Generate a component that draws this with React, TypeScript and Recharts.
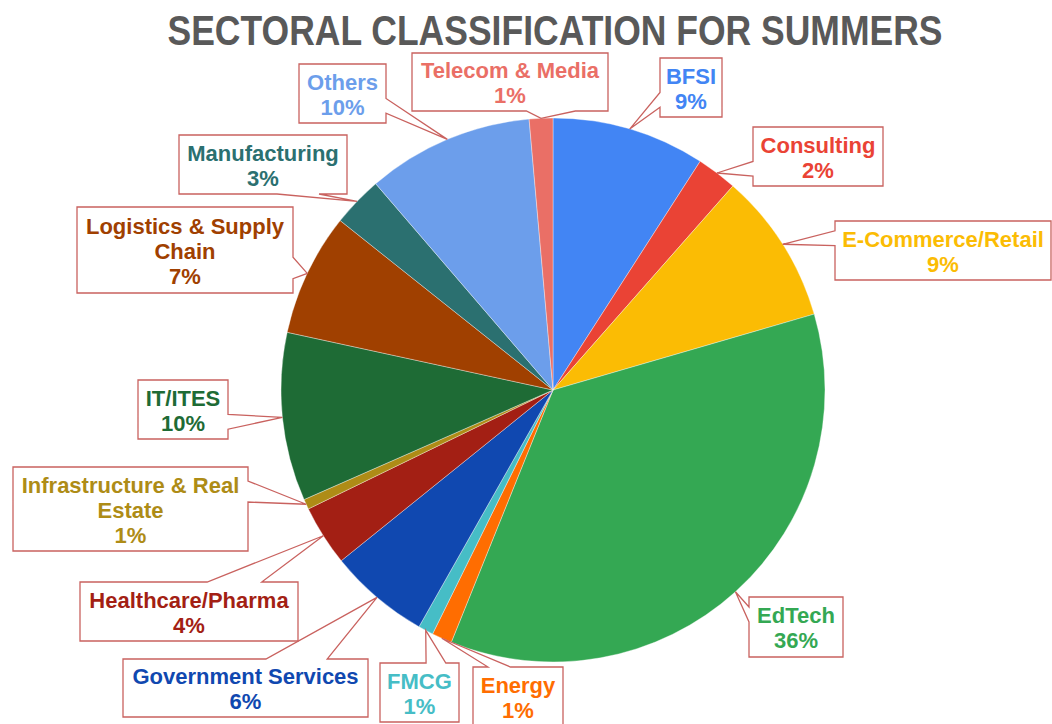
import { PieChart, Pie, Cell } from 'recharts';

// sector shares (%), clockwise from 12 o'clock
const SECTORS = [
  'BFSI',
  'Consulting',
  'E-Commerce/Retail',
  'EdTech',
  'Energy',
  'FMCG',
  'Government Services',
  'Healthcare/Pharma',
  'Infrastructure & Real Estate',
  'IT/ITES',
  'Logistics & Supply Chain',
  'Manufacturing',
  'Others',
  'Telecom & Media',
];

const SHARES = [9.1, 2.4, 9.0, 35.6, 1.2, 0.9, 6.0, 3.6, 0.6, 10.0, 7.3, 3.0, 9.9, 1.4];

const COLORS = [
  '#4285F4',
  '#EA4335',
  '#FBBC04',
  '#34A853',
  '#FF6D01',
  '#46BDC6',
  '#1048B0',
  '#A31F14',
  '#AE8C16',
  '#1E6B35',
  '#A04000',
  '#2B7070',
  '#6C9EEB',
  '#EA6F66',
];

// callout boxes: centre offset from the pie centre, size, words on first line (0 = no wrap)
const CALLOUTS = [
  { dx: 138, dy: -302.5, w: 62, h: 59, wrap: 0 },
  { dx: 265, dy: -233.5, w: 130, h: 59, wrap: 0 },
  { dx: 390, dy: -139.5, w: 216, h: 59, wrap: 0 },
  { dx: 243, dy: 237, w: 94, h: 60, wrap: 0 },
  { dx: -35, dy: 306.5, w: 90, h: 59, wrap: 0 },
  { dx: -133.5, dy: 302.5, w: 79, h: 59, wrap: 0 },
  { dx: -307.5, dy: 298, w: 245, h: 58, wrap: 0 },
  { dx: -364, dy: 221.5, w: 218, h: 59, wrap: 0 },
  { dx: -422.5, dy: 119, w: 235, h: 84, wrap: 3 },
  { dx: -370, dy: 19.5, w: 90, h: 59, wrap: 0 },
  { dx: -368, dy: -140, w: 216, h: 86, wrap: 3 },
  { dx: -290, dy: -225.5, w: 168, h: 59, wrap: 0 },
  { dx: -210.5, dy: -296.5, w: 87, h: 59, wrap: 0 },
  { dx: -43, dy: -308, w: 196, h: 58, wrap: 0 },
];

const data = SECTORS.map((name, i) => ({ name, value: SHARES[i] }));

const RAD = Math.PI / 180;
const BORDER = '#C9625F';
const FONT = '"Liberation Sans", Arial, sans-serif';

// rectangle with a wedge pointing at (tx, ty), like an office "wedge rect callout"
function calloutPath(x: number, y: number, w: number, h: number, tx: number, ty: number) {
  const dx = tx - (x + w / 2);
  const dy = ty - (y + h / 2);
  const r = x + w;
  const b = y + h;
  if (Math.abs(dy) > Math.abs((dx * h) / w)) {
    const [a1, a2] = dx > 0 ? [x + (w * 7) / 12, x + (w * 10) / 12] : [x + (w * 2) / 12, x + (w * 5) / 12];
    if (dy < 0) return `M${x},${y}L${a1},${y}L${tx},${ty}L${a2},${y}L${r},${y}L${r},${b}L${x},${b}Z`;
    return `M${x},${y}L${r},${y}L${r},${b}L${a2},${b}L${tx},${ty}L${a1},${b}L${x},${b}Z`;
  }
  const [a1, a2] = dy > 0 ? [y + (h * 7) / 12, y + (h * 10) / 12] : [y + (h * 2) / 12, y + (h * 5) / 12];
  if (dx < 0) return `M${x},${y}L${r},${y}L${r},${b}L${x},${b}L${x},${a2}L${tx},${ty}L${x},${a1}Z`;
  return `M${x},${y}L${r},${y}L${r},${a1}L${tx},${ty}L${r},${a2}L${r},${b}L${x},${b}Z`;
}

function renderCallout(props: any) {
  const { cx, cy, midAngle, outerRadius, index, percent, name } = props;
  const c = CALLOUTS[index];
  const color = COLORS[index];
  const tx = cx + outerRadius * Math.cos(-midAngle * RAD);
  const ty = cy + outerRadius * Math.sin(-midAngle * RAD);
  const bx = cx + c.dx - c.w / 2;
  const by = cy + c.dy - c.h / 2;

  const words = String(name).split(' ');
  const lines = c.wrap ? [words.slice(0, c.wrap).join(' '), words.slice(c.wrap).join(' ')] : [String(name)];
  lines.push(`${Math.round(percent * 100)}%`);

  return (
    <g key={`callout-${index}`}>
      <path d={calloutPath(bx, by, c.w, c.h, tx, ty)} fill="#fff" stroke={BORDER} strokeWidth={1.3} />
      {lines.map((line, i) => (
        <text
          key={i}
          x={cx + c.dx}
          y={cy + c.dy + (i - (lines.length - 1) / 2) * 25 + 1 + 7.9}
          textAnchor="middle"
          fill={color}
          fontFamily={FONT}
          fontWeight="bold"
          fontSize={22}
        >
          {line}
        </text>
      ))}
    </g>
  );
}

export default function App() {
  return (
    <div style={{ position: 'absolute', left: 0, top: 0, width: 1052, height: 724, background: '#fff' }}>
      <PieChart width={1052} height={724} margin={{ top: 0, right: 0, bottom: 0, left: 0 }}>
        <Pie
          data={data}
          dataKey="value"
          nameKey="name"
          cx={553}
          cy={390}
          outerRadius={272}
          startAngle={90}
          endAngle={-270}
          label={renderCallout}
          labelLine={false}
          isAnimationActive={false}
        >
          {data.map((_, i) => (
            <Cell key={`cell-${i}`} fill={COLORS[i]} stroke="rgba(255,255,255,0.45)" strokeWidth={0.8} />
          ))}
        </Pie>
      </PieChart>
      <svg
        width={1052}
        height={724}
        style={{ position: 'absolute', left: 0, top: 0, pointerEvents: 'none' }}
      >
        <g transform="translate(555 45) scale(1 1.2)">
          <text
            x={0}
            y={0}
            textAnchor="middle"
            fill="#595959"
            fontFamily={FONT}
            fontWeight="bold"
            fontSize={35.5}
          >
            SECTORAL CLASSIFICATION FOR SUMMERS
          </text>
        </g>
      </svg>
    </div>
  );
}
